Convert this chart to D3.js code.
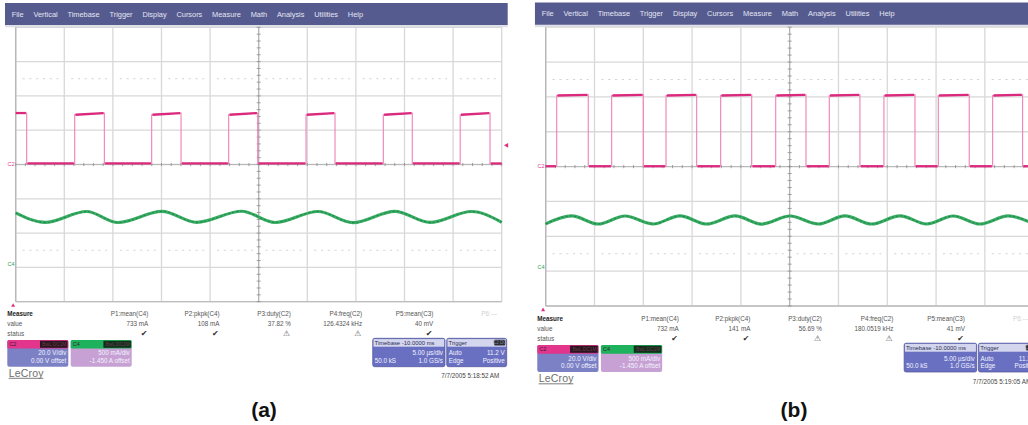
<!DOCTYPE html>
<html>
<head>
<meta charset="utf-8">
<script src="https://cdn.jsdelivr.net/npm/d3@7"></script>
<style>
  html, body { margin: 0; padding: 0; background: #fff; }
  svg { display: block; font-family: "Liberation Sans", Arial, sans-serif; }
</style>
</head>
<body>
<svg id="chart" width="1028" height="425"></svg>
<script>
// ---------- data ----------
const menuItems = ["File", "Vertical", "Timebase", "Trigger", "Display", "Cursors",
                   "Measure", "Math", "Analysis", "Utilities", "Help"];

const measureNames = ["P1:mean(C4)", "P2:pkpk(C4)", "P3:duty(C2)", "P4:freq(C2)", "P5:mean(C3)"];
const measureValuesA = ["733 mA", "108 mA", "37.82 %", "126.4324 kHz", "40 mV"];
const measureValuesB = ["732 mA", "141 mA", "56.69 %", "180.0519 kHz", "41 mV"];
const measureStatus = ["ok", "ok", "warn", "warn", "ok"];

const c2Setup = ["C2", "20.0 V/div", "0.00 V offset"];
const c4Setup = ["C4", "500 mA/div", "-1.450 A offset"];
const timebaseSetup = ["Timebase -10.0000 ms", "5.00 µs/div", "50.0 kS", "1.0 GS/s"];
const triggerSetup = ["Trigger", "Auto", "11.2 V", "Edge", "Positive"];
const triggerLevelV = 11.2;
const stampA = "7/7/2005 5:18:52 AM";
const stampB = "7/7/2005 5:19:05 AM";

// C2 switching waveform: edge times (µs) and levels (V: low, high after rise, high before fall)
const c2RiseA = [6.07, 13.99, 21.91, 29.87, 37.82, 45.73];
const c2FallA = [1.13, 9.12, 17.01, 24.90, 32.85, 40.80, 48.80];
const c2LevelsA = [0.6, 29.0, 30.0];

const c2RiseB = [1.13, 6.76, 12.33, 17.93, 23.57, 29.06, 34.66, 40.23, 45.80];
const c2FallB = [4.36, 10.00, 15.47, 21.11, 26.67, 32.20, 37.84, 43.40, 48.87];
const c2LevelsB = [0.2, 40.8, 41.2];

// C4 current ripple: turning points (µs, mA)
const c4TimeA = [0, 3.01, 7.30, 10.52, 15.05, 18.62, 23.25, 26.68, 31.10, 34.70, 39.00, 42.62, 46.90, 50];
const c4CurrentA = [745, 606, 764, 604, 766, 607, 768, 605, 765, 603, 767, 606, 764, 608];

const c4TimeB = [0, 2.66, 5.39, 8.13, 11.02, 13.76, 16.50, 19.40, 22.13, 25.03, 27.93, 30.67,
                 33.40, 36.30, 39.04, 41.76, 44.50, 47.40, 50];
const c4CurrentB = [628, 742, 626, 741, 627, 743, 626, 742, 625, 741, 627, 742,
                    626, 743, 627, 741, 626, 742, 627];

// ---------- geometry ----------
const gridW = 486, gridH = 274.4;
const x = d3.scaleLinear().domain([0, 50]).range([0, gridW]);            // µs, 5 µs/div
const yV = d3.scaleLinear().domain([-80, 80]).range([gridH, 0]);         // C2, 20 V/div
const yI = d3.scaleLinear().domain([1450 - 2000, 1450 + 2000]).range([gridH, 0]); // C4, 500 mA/div, -1.45 A offset

const svg = d3.select("#chart");

function squareSegments(rises, falls, levels) {
  const [low, hiStart, hiEnd] = levels;
  const edges = rises.map(t => ({ t, up: true }))
    .concat(falls.map(t => ({ t, up: false })))
    .sort((a, b) => a.t - b.t);
  let high = !edges[0].up;
  let t0 = 0;
  const segs = [];
  const push = (ta, tb, partialStart) => {
    if (high) {
      segs.push({ t0: ta, t1: tb, v0: partialStart ? hiEnd : hiStart, v1: hiEnd, high });
    } else {
      segs.push({ t0: ta, t1: tb, v0: low, v1: low, high });
    }
  };
  edges.forEach((e, i) => {
    push(t0, e.t, i === 0);
    t0 = e.t;
    high = e.up;
  });
  push(t0, 50, false);
  return segs;
}

function drawPanel(cfg) {
  const g = svg.append("g")
    .attr("transform", `translate(${cfg.tx},${cfg.ty}) scale(${cfg.sx},${cfg.sy})`);

  // menu bar
  g.append("rect").attr("x", -10.7).attr("y", -24.3).attr("width", 502.7).attr("height", 22)
    .attr("fill", "#565b8f");
  g.append("rect").attr("x", -10.7).attr("y", -2.3).attr("width", 502.7).attr("height", 2.3)
    .attr("fill", "#dfe0e8");
  let mx = -4;
  menuItems.forEach(m => {
    const t = g.append("text").attr("x", mx).attr("y", -10.6)
      .attr("font-size", 7.4).attr("fill", "#e4e6f3").text(m);
    mx += t.node().getComputedTextLength() + 9.8;
  });

  // grid
  const grid = g.append("g");
  grid.selectAll("line.v").data(x.ticks(10)).join("line")
    .attr("x1", d => x(d)).attr("x2", d => x(d)).attr("y1", 0).attr("y2", gridH)
    .attr("stroke", "#d8d8d8").attr("stroke-width", 1.3);
  grid.selectAll("line.h").data(yV.ticks(8)).join("line")
    .attr("x1", 0).attr("x2", gridW).attr("y1", d => yV(d)).attr("y2", d => yV(d))
    .attr("stroke", "#d8d8d8").attr("stroke-width", 1.3);
  grid.append("line").attr("x1", 0).attr("x2", 0).attr("y1", 0).attr("y2", gridH)
    .attr("stroke", "#b8b8b8").attr("stroke-width", 1.4);
  grid.append("line").attr("x1", 0).attr("x2", gridW).attr("y1", gridH).attr("y2", gridH)
    .attr("stroke", "#bcbcbc").attr("stroke-width", 1.3);

  // faint dotted rows
  [50, -50].forEach(v => {
    d3.range(0, 50, 5).forEach(t => {
      grid.append("line").attr("x1", x(t + 0.7)).attr("x2", x(t + 4.4))
        .attr("y1", yV(v)).attr("y2", yV(v))
        .attr("stroke", "#d4d4d4").attr("stroke-width", 1.1).attr("stroke-dasharray", "2.2,4.6");
    });
  });

  // centre axes with minor ticks
  grid.append("line").attr("x1", x(25)).attr("x2", x(25)).attr("y1", 0).attr("y2", gridH)
    .attr("stroke", "#a8a8a8").attr("stroke-width", 0.9);
  grid.append("line").attr("x1", 0).attr("x2", gridW).attr("y1", yV(0)).attr("y2", yV(0))
    .attr("stroke", "#b4b4b4").attr("stroke-width", 0.9);
  grid.selectAll("line.vt").data(d3.range(-80, 80.01, 4)).join("line")
    .attr("x1", x(25) - 2).attr("x2", x(25) + 2).attr("y1", d => yV(d)).attr("y2", d => yV(d))
    .attr("stroke", "#8c8c8c").attr("stroke-width", 0.8);
  grid.selectAll("line.ht").data(d3.range(0, 50.01, 1)).join("line")
    .attr("x1", d => x(d)).attr("x2", d => x(d)).attr("y1", yV(0) - 1.6).attr("y2", yV(0) + 1.6)
    .attr("stroke", "#8c8c8c").attr("stroke-width", 0.8);

  // channel ground labels
  g.append("text").attr("x", -8.2).attr("y", yV(0) + 1.8).attr("font-size", 5.5)
    .attr("fill", "#e0428d").text("C2");
  g.append("text").attr("x", -8.2).attr("y", yI(0) + 1.8).attr("font-size", 5.5)
    .attr("fill", "#2da35a").text("C4");
  // trigger position marker
  g.append("path").attr("d", "M-4.6,279.5 L-0.6,279.5 L-2.6,276 Z").attr("fill", "#e0307f");
  if (cfg.trigMarker) {
    const ty = yV(triggerLevelV);
    g.append("path").attr("d", `M${gridW + 2.2},${ty} L${gridW + 6.5},${ty - 2.4} L${gridW + 6.5},${ty + 2.4} Z`)
      .attr("fill", "#e0307f");
  }

  // C4 ripple current
  const c4 = cfg.c4t.map((t, i) => [t, cfg.c4v[i]]);
  const lineI = d3.line().x(d => x(d[0])).y(d => yI(d[1])).curve(d3.curveMonotoneX);
  g.append("path").attr("d", lineI(c4)).attr("fill", "none")
    .attr("stroke", "#3aae66").attr("stroke-width", 3.1);
  g.append("path").attr("d", lineI(c4)).attr("fill", "none")
    .attr("stroke", "#1d8443").attr("stroke-width", 1.1).attr("stroke-dasharray", "2.4,1.8")
    .attr("opacity", 0.85);

  // C2 switching voltage
  const segs = squareSegments(cfg.rises, cfg.falls, cfg.levels);
  const pts = [];
  segs.forEach(s => { pts.push([s.t0, s.v0]); pts.push([s.t1, s.v1]); });
  const lineV = d3.line().x(d => x(d[0])).y(d => yV(d[1]));
  g.append("path").attr("d", lineV(pts)).attr("fill", "none")
    .attr("stroke", "#ef80b4").attr("stroke-width", 1.1);
  g.selectAll("line.plateau").data(segs).join("line")
    .attr("x1", d => x(d.t0 === 0 ? 0 : d.t0 + 0.08)).attr("x2", d => x(d.t1 === 50 ? 50 : d.t1 - 0.08))
    .attr("y1", d => yV(d.v0)).attr("y2", d => yV(d.v1))
    .attr("stroke", "#db2a7d").attr("stroke-width", 2.3);

  // measurement table
  const fs = 6.3;
  const rowY = [289, 299, 308.4];
  g.append("text").attr("x", -8.4).attr("y", rowY[0]).attr("font-size", fs)
    .attr("font-weight", "bold").attr("fill", "#222").text("Measure");
  g.append("text").attr("x", -8.4).attr("y", rowY[1]).attr("font-size", fs).attr("fill", "#555").text("value");
  g.append("text").attr("x", -8.4).attr("y", rowY[2]).attr("font-size", fs).attr("fill", "#555").text("status");
  measureNames.forEach((name, i) => {
    const cx = 132.6 + i * 71.25;
    g.append("text").attr("x", cx).attr("y", rowY[0]).attr("font-size", fs)
      .attr("text-anchor", "end").attr("fill", "#555").text(name);
    g.append("text").attr("x", cx).attr("y", rowY[1]).attr("font-size", fs)
      .attr("text-anchor", "end").attr("fill", "#555").text(cfg.values[i]);
    if (measureStatus[i] === "ok") {
      g.append("text").attr("x", cx - 4.3).attr("y", rowY[2] + 0.8).attr("font-size", 7.8)
        .attr("text-anchor", "middle").attr("font-family", "DejaVu Sans").attr("fill", "#333").text("\u2714");
    } else {
      g.append("text").attr("x", cx - 4.3).attr("y", rowY[2] + 0.8).attr("font-size", 7.8)
        .attr("text-anchor", "middle").attr("font-family", "DejaVu Sans").attr("fill", "#5a5a5a").text("\u26A0");
    }
  });
  g.append("text").attr("x", 481.3).attr("y", rowY[0]).attr("font-size", fs)
    .attr("text-anchor", "end").attr("fill", "#d0d0d0").text("P6:---");

  // channel descriptor boxes
  function channelBox(bx, head, dark, body, lines) {
    const bw = 61, by = 312.7, bh = 26.7, hh = 8.6;
    g.append("rect").attr("x", bx).attr("y", by).attr("width", bw).attr("height", bh)
      .attr("rx", 2).attr("fill", body);
    g.append("rect").attr("x", bx).attr("y", by).attr("width", bw).attr("height", hh)
      .attr("rx", 1.5).attr("fill", head);
    g.append("rect").attr("x", bx + 32.7).attr("y", by + 0.8).attr("width", 27.5).attr("height", hh - 1.6)
      .attr("fill", dark);
    g.append("text").attr("x", bx + 2).attr("y", by + 6.4).attr("font-size", 5.5)
      .attr("fill", "#3a2030").text(lines[0]);
    g.append("text").attr("x", bx + 59).attr("y", by + 6.3).attr("font-size", 4.8)
      .attr("text-anchor", "end").attr("fill", "#6b3a4a").text("BwL DC1M");
    g.append("text").attr("x", bx + bw - 2).attr("y", 328.2).attr("font-size", 6.3)
      .attr("text-anchor", "end").attr("fill", "#f3f3ff").text(lines[1]);
    g.append("text").attr("x", bx + bw - 2).attr("y", 335.7).attr("font-size", 6.3)
      .attr("text-anchor", "end").attr("fill", "#f3f3ff").text(lines[2]);
  }
  channelBox(-8.4, "#e2358b", "#2b1620", "#7c81c5", c2Setup);
  channelBox(55, "#1fb25c", "#12301c", "#c7a1d3", c4Setup);

  // timebase and trigger boxes
  function infoBox(bx, bw, title, badge) {
    const by = 311, bh = 28.4, hh = 8.4;
    g.append("rect").attr("x", bx).attr("y", by).attr("width", bw).attr("height", bh)
      .attr("rx", 2).attr("fill", "#6a70c1").attr("stroke", "#4c5199").attr("stroke-width", 0.7);
    g.append("rect").attr("x", bx + 0.8).attr("y", by + 0.8).attr("width", bw - 1.6).attr("height", hh - 0.8)
      .attr("fill", "#d4d6ee");
    g.append("text").attr("x", bx + 1.8).attr("y", by + 6.6).attr("font-size", 5.9)
      .attr("fill", "#2a2d55").text(title);
    if (badge) {
      g.append("rect").attr("x", bx + bw - 12.5).attr("y", by + 1.5).attr("width", 11).attr("height", hh - 2.6)
        .attr("rx", 1).attr("fill", "#2c2c34");
      g.append("text").attr("x", bx + bw - 7).attr("y", by + 6.1).attr("font-size", 4.5)
        .attr("text-anchor", "middle").attr("fill", "#8a8a99").text("C2 DC");
    }
  }
  const tbx = 357, tbw = 72.3;
  infoBox(tbx, tbw, timebaseSetup[0], false);
  g.append("text").attr("x", tbx + tbw - 2).attr("y", 328.2).attr("font-size", 6.3)
    .attr("text-anchor", "end").attr("fill", "#f3f3ff").text(timebaseSetup[1]);
  g.append("text").attr("x", tbx + 2).attr("y", 335.7).attr("font-size", 6.3)
    .attr("fill", "#f3f3ff").text(timebaseSetup[2]);
  g.append("text").attr("x", tbx + tbw - 2).attr("y", 335.7).attr("font-size", 6.3)
    .attr("text-anchor", "end").attr("fill", "#f3f3ff").text(timebaseSetup[3]);

  const trx = 431, trw = 60;
  infoBox(trx, trw, triggerSetup[0], true);
  g.append("text").attr("x", trx + 2).attr("y", 328.2).attr("font-size", 6.3)
    .attr("fill", "#f3f3ff").text(triggerSetup[1]);
  g.append("text").attr("x", trx + trw - 2).attr("y", 328.2).attr("font-size", 6.3)
    .attr("text-anchor", "end").attr("fill", "#f3f3ff").text(triggerSetup[2]);
  g.append("text").attr("x", trx + 2).attr("y", 335.7).attr("font-size", 6.3)
    .attr("fill", "#f3f3ff").text(triggerSetup[3]);
  g.append("text").attr("x", trx + trw - 2).attr("y", 335.7).attr("font-size", 6.3)
    .attr("text-anchor", "end").attr("fill", "#f3f3ff").text(triggerSetup[4]);

  // brand and time stamp
  g.append("text").attr("x", -7).attr("y", 349.3).attr("font-size", 10.5)
    .attr("fill", "#6e6e6e").attr("letter-spacing", 0.2).text("LeCroy");
  g.append("line").attr("x1", -7).attr("x2", 27.6).attr("y1", 351).attr("y2", 351)
    .attr("stroke", "#6e6e6e").attr("stroke-width", 0.9);
  g.append("text").attr("x", 483.6).attr("y", 351).attr("font-size", 6.3)
    .attr("text-anchor", "end").attr("fill", "#444").text(cfg.stamp);
}

drawPanel({ tx: 15.7, ty: 27.3, sx: 1, sy: 1,
  rises: c2RiseA, falls: c2FallA, levels: c2LevelsA,
  c4t: c4TimeA, c4v: c4CurrentA, values: measureValuesA, stamp: stampA, trigMarker: true });

drawPanel({ tx: 545.7, ty: 27.2, sx: 1.004, sy: 1.016,
  rises: c2RiseB, falls: c2FallB, levels: c2LevelsB,
  c4t: c4TimeB, c4v: c4CurrentB, values: measureValuesB, stamp: stampB, trigMarker: true });

// sub-figure captions
svg.append("text").attr("x", 264).attr("y", 417).attr("text-anchor", "middle")
  .attr("font-size", 21).attr("font-weight", "bold").attr("fill", "#111").text("(a)");
svg.append("text").attr("x", 794).attr("y", 417).attr("text-anchor", "middle")
  .attr("font-size", 21).attr("font-weight", "bold").attr("fill", "#111").text("(b)");
</script>
</body>
</html>
